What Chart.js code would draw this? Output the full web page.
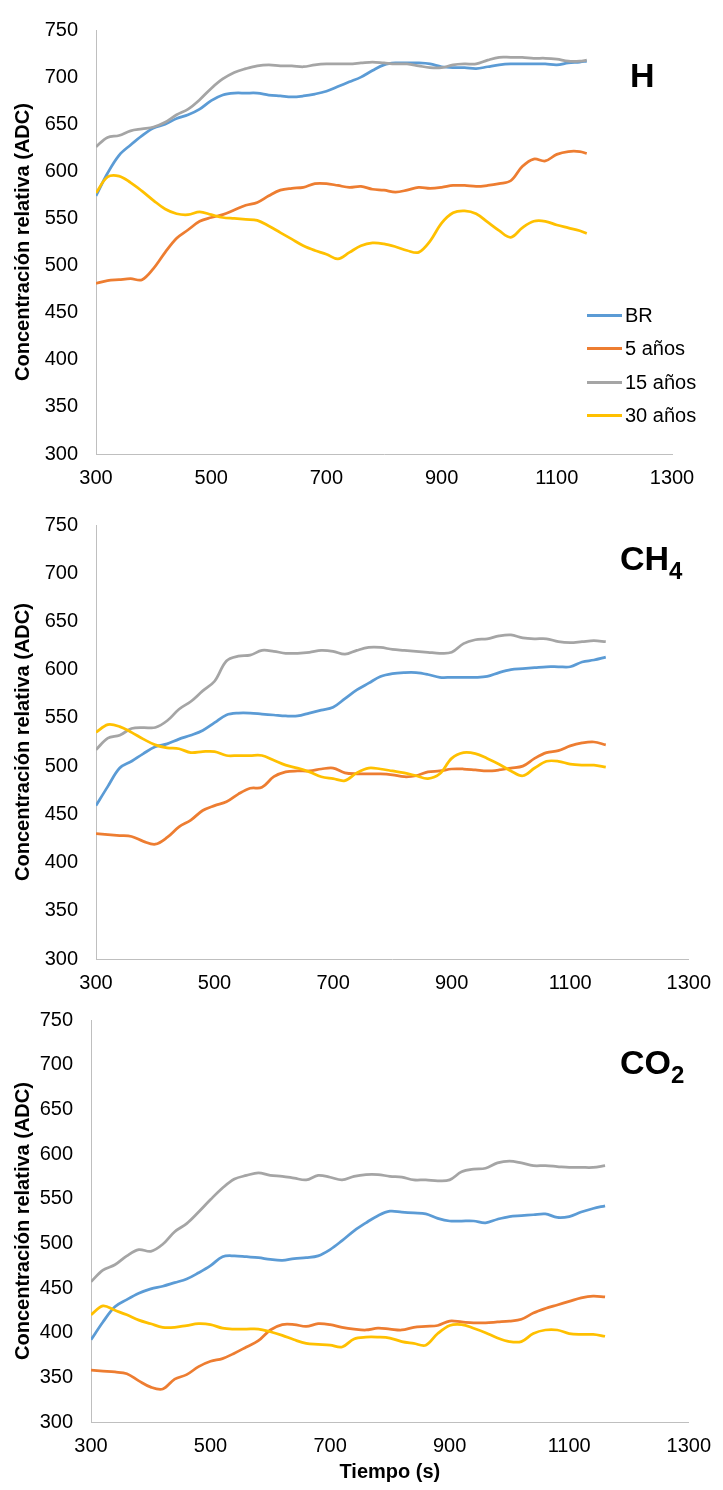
<!DOCTYPE html>
<html>
<head>
<meta charset="utf-8">
<script src="https://cdn.jsdelivr.net/npm/chart.js@4.4.0/dist/chart.umd.min.js"></script>
<style>
    body { margin: 0; background: #fff; width: 723px; height: 1490px; position: relative; overflow: hidden; font-family: "Liberation Sans", Arial, sans-serif; }
    canvas { position: absolute; left: 0; }
    .gas { position: absolute; font-weight: bold; font-size: 34px; line-height: 34px; color: #000; white-space: nowrap; }
    .gas span { font-size: 24px; position: relative; top: 9px; }
    .legend { position: absolute; left: 587px; top: 299px; font-size: 20px; color: #000; }
    .legend div { height: 33.3px; display: flex; align-items: center; }
    .legend i { display: inline-block; width: 35px; height: 3px; margin-right: 3px; }
</style>
</head>
<body>
<canvas id="chartH" width="723" height="495" style="top:0px"></canvas>
<canvas id="chartCH4" width="723" height="495" style="top:495px"></canvas>
<canvas id="chartCO2" width="723" height="500" style="top:990px"></canvas>

<div class="gas" style="left:630px; top:58px">H</div>
<div class="gas" style="left:620px; top:541px">CH<span>4</span></div>
<div class="gas" style="left:620px; top:1045px">CO<span>2</span></div>
<div class="legend" id="legend"></div>

<script>
const seriesNames = ['BR', '5 años', '15 años', '30 años'];
const seriesColors = ['#5B9BD5', '#ED7D31', '#A5A5A5', '#FFC000'];
const yTicks = [300, 350, 400, 450, 500, 550, 600, 650, 700, 750];
const xTicks = [300, 500, 700, 900, 1100, 1300];

// tiempo (s)
const timesH = [300, 320, 340, 360, 380, 400, 420, 440, 460, 480, 500, 520, 540, 560, 580, 600, 620, 640, 660, 680, 700, 720,
    740, 760, 780, 800, 820, 840, 860, 880, 900, 920, 940, 960, 980, 1000, 1020, 1040, 1060, 1080, 1100, 1120, 1140, 1152];
const times = [300, 320, 340, 360, 380, 400, 420, 440, 460, 480, 500, 520, 540, 560, 580, 600, 620, 640, 660, 680, 700, 720,
    740, 760, 780, 800, 820, 840, 860, 880, 900, 920, 940, 960, 980, 1000, 1020, 1040, 1060, 1080, 1100, 1120, 1140, 1160];

// H
const hBR = [574, 598, 617, 628, 638, 646, 650, 656, 660, 666, 675, 681, 683, 683, 683, 681, 680, 679, 680, 682, 685, 690,
    695, 700, 707, 713, 715, 715, 715, 714, 711, 710, 710, 709, 711, 713, 714, 714, 714, 714, 713, 715, 716, 717];
const hFive = [481, 484, 485, 486, 485, 497, 514, 529, 538, 547, 551, 554, 559, 564, 567, 574, 580, 582, 583, 587, 587, 585,
    583, 584, 581, 580, 578, 580, 583, 582, 583, 585, 585, 584, 585, 587, 590, 605, 613, 611, 618, 621, 621, 619];
const hFifteen = [626, 636, 638, 643, 645, 647, 652, 660, 666, 676, 688, 698, 705, 709, 712, 713, 712, 712, 711, 713, 714, 714,
    714, 715, 716, 715, 714, 714, 712, 710, 710, 713, 714, 714, 718, 721, 721, 721, 720, 720, 719, 717, 717, 718];
const hThirty = [577, 594, 595, 588, 579, 569, 560, 555, 554, 557, 554, 551, 550, 549, 548, 542, 535, 528, 521, 516, 512, 507,
    514, 521, 524, 523, 520, 516, 514, 526, 545, 556, 558, 555, 546, 537, 530, 540, 547, 547, 543, 540, 537, 534];

// CH4
const cBR = [459, 479, 498, 505, 513, 520, 523, 528, 532, 537, 545, 553, 555, 555, 554, 553, 552, 552, 555, 558, 561, 570,
    579, 586, 593, 596, 597, 597, 595, 592, 592, 592, 592, 593, 597, 600, 601, 602, 603, 603, 603, 608, 610, 613];
const cFive = [430, 429, 428, 427, 422, 419, 426, 437, 444, 454, 459, 463, 471, 477, 478, 489, 494, 495, 495, 497, 498, 493,
    492, 492, 492, 491, 489, 490, 494, 495, 497, 497, 496, 495, 496, 498, 500, 508, 514, 516, 521, 524, 525, 522];
const cFifteen = [517, 529, 532, 539, 540, 540, 547, 559, 567, 578, 588, 609, 614, 615, 620, 619, 617, 617, 618, 620, 619, 616,
    620, 623, 623, 621, 620, 619, 618, 617, 618, 627, 631, 632, 635, 636, 633, 632, 632, 629, 628, 629, 630, 629];
const cThirty = [535, 543, 541, 535, 528, 522, 519, 518, 514, 515, 515, 511, 511, 511, 511, 506, 501, 498, 494, 489, 487, 485,
    493, 498, 497, 495, 493, 490, 487, 492, 508, 514, 513, 508, 502, 495, 490, 498, 505, 505, 502, 501, 501, 499];

// CO2
const oBR = [392, 412, 429, 437, 444, 449, 452, 456, 460, 467, 475, 485, 486, 485, 484, 482, 481, 483, 484, 486, 493, 503,
    514, 523, 531, 536, 535, 534, 533, 528, 525, 525, 525, 523, 527, 530, 531, 532, 533, 529, 530, 535, 539, 542];
const oFive = [358, 357, 356, 354, 346, 339, 337, 348, 353, 362, 368, 371, 377, 384, 391, 403, 409, 409, 407, 410, 409, 406,
    404, 403, 405, 404, 403, 406, 407, 408, 413, 412, 411, 411, 412, 413, 415, 422, 427, 431, 435, 439, 441, 440];
const oFifteen = [457, 470, 476, 486, 493, 491, 499, 513, 522, 535, 549, 562, 572, 576, 579, 576, 575, 573, 571, 576, 574, 571,
    575, 577, 577, 575, 574, 571, 571, 570, 571, 580, 583, 584, 590, 592, 590, 587, 587, 586, 585, 585, 585, 587];
const oThirty = [420, 430, 425, 420, 414, 410, 406, 406, 408, 410, 409, 405, 404, 404, 404, 401, 397, 392, 388, 387, 386, 384,
    393, 395, 395, 394, 390, 388, 386, 399, 408, 409, 405, 400, 394, 390, 390, 399, 403, 403, 399, 398, 398, 396];

const tickFont = { family: '"Liberation Sans", Arial, sans-serif', size: 20 };
const titleFont = { family: '"Liberation Sans", Arial, sans-serif', size: 20, weight: 'bold' };

function buildChart(id, t, values, box) {
    return new Chart(document.getElementById(id), {
        type: 'line',
        data: {
            datasets: values.map((vals, i) => ({
                label: seriesNames[i],
                data: vals.map((v, j) => ({ x: t[j], y: v })),
                borderColor: seriesColors[i],
                borderWidth: 2.75,
                pointRadius: 0,
                tension: 0.35,
                order: values.length - i
            }))
        },
        options: {
            responsive: false,
            animation: false,
            devicePixelRatio: 1,
            layout: { padding: { top: box.top, right: box.right, left: 0, bottom: 0 } },
            plugins: { legend: { display: false }, tooltip: { enabled: false } },
            scales: {
                x: {
                    type: 'linear',
                    min: xTicks[0],
                    max: xTicks[xTicks.length - 1],
                    afterBuildTicks: s => { s.ticks = xTicks.map(v => ({ value: v })); },
                    afterFit: s => { s.height = box.xAxisH; },
                    grid: { display: false, drawTicks: false },
                    border: { color: '#bfbfbf' },
                    ticks: { font: tickFont, color: '#000', padding: 12, maxRotation: 0, callback: v => String(v) },
                    title: { display: !!box.xTitle, text: box.xTitle || '', font: titleFont, color: '#000', padding: { top: 0, bottom: 6 } }
                },
                y: {
                    min: yTicks[0],
                    max: yTicks[yTicks.length - 1],
                    afterBuildTicks: s => { s.ticks = yTicks.map(v => ({ value: v })); },
                    afterFit: s => { s.width = box.left; },
                    grid: { display: false, drawTicks: false },
                    border: { color: '#bfbfbf' },
                    ticks: { font: tickFont, color: '#000', padding: 18, callback: v => String(v) },
                    title: { display: true, text: 'Concentración relativa (ADC)', font: titleFont, color: '#000', padding: { top: 11, bottom: 0 } }
                }
            }
        }
    });
}

buildChart('chartH', timesH, [hBR, hFive, hFifteen, hThirty], { top: 21, right: 51, left: 96, xAxisH: 41 });
buildChart('chartCH4', times, [cBR, cFive, cFifteen, cThirty], { top: 22, right: 23, left: 96, xAxisH: 31 });
buildChart('chartCO2', times, [oBR, oFive, oFifteen, oThirty], { top: 26, right: 27, left: 91, xAxisH: 68, xTitle: 'Tiempo (s)' });

const legend = document.getElementById('legend');
seriesNames.forEach((name, i) => {
    const row = document.createElement('div');
    row.innerHTML = `<i style="background:${seriesColors[i]}"></i>${name}`;
    legend.appendChild(row);
});
</script>
</body>
</html>
